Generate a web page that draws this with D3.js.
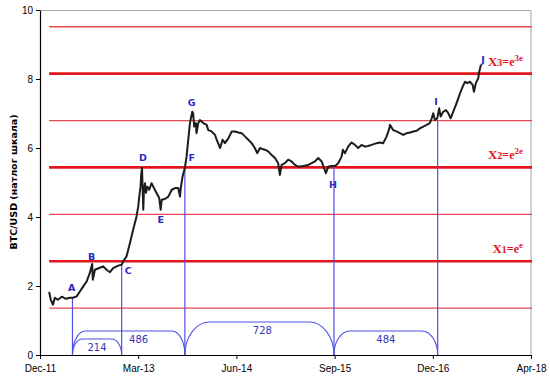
<!DOCTYPE html>
<html>
<head>
<meta charset="utf-8">
<script src="https://cdn.jsdelivr.net/npm/d3@7"></script>
<style>
  body { margin: 0; background: #fff; }
  svg { display: block; font-family: "DejaVu Sans", Verdana, sans-serif; }
  .tick text { font-size: 10px; fill: #000; }
  .tick line, .domain { stroke: #000; }
</style>
</head>
<body>
<svg width="550" height="379"></svg>
<script>
// ln(ln-price) style chart: BTC/USD on natural log scale, day by day
const priceDates = [
  "2012-01-13","2012-01-21","2012-01-31","2012-02-09","2012-02-23","2012-03-13","2012-04-01","2012-04-20",
  "2012-05-04","2012-05-22","2012-06-06","2012-06-22","2012-07-08","2012-07-23","2012-07-31","2012-08-03",
  "2012-08-06","2012-08-16","2012-09-08","2012-09-24","2012-10-10","2012-10-26","2012-11-10","2012-12-04",
  "2012-12-20","2012-12-27","2013-01-12","2013-01-28","2013-02-12","2013-02-28","2013-03-08","2013-03-13",
  "2013-03-19","2013-03-22","2013-03-26","2013-04-01","2013-04-04","2013-04-09","2013-04-14","2013-04-20",
  "2013-04-29","2013-05-10","2013-05-18","2013-06-03","2013-06-15","2013-06-22","2013-06-27","2013-07-12",
  "2013-07-28","2013-08-13","2013-08-29","2013-09-13","2013-09-21","2013-09-25","2013-10-03","2013-10-14",
  "2013-10-22","2013-10-30","2013-11-07","2013-11-18","2013-11-22","2013-11-27","2013-12-05","2013-12-08",
  "2013-12-16","2013-12-24","2014-01-01","2014-01-09","2014-01-25","2014-02-01","2014-02-17","2014-03-05",
  "2014-03-13","2014-03-29","2014-04-10","2014-04-21","2014-05-07","2014-05-23","2014-06-07","2014-06-23",
  "2014-07-09","2014-07-25","2014-08-09","2014-08-25","2014-09-09","2014-09-20","2014-10-03","2014-10-11",
  "2014-10-26","2014-11-11","2014-11-27","2014-12-13","2014-12-28","2015-01-05","2015-01-13","2015-01-29",
  "2015-02-13","2015-03-01","2015-03-17","2015-04-01","2015-04-25","2015-05-19","2015-06-04","2015-06-19",
  "2015-07-05","2015-07-21","2015-08-01","2015-08-10","2015-08-21","2015-09-06","2015-09-22","2015-10-07",
  "2015-10-23","2015-10-29","2015-11-08","2015-11-23","2015-12-09","2015-12-25","2016-01-09","2016-01-25",
  "2016-02-10","2016-02-25","2016-03-12","2016-04-05","2016-04-21","2016-05-06","2016-05-22","2016-06-04",
  "2016-06-07","2016-06-22","2016-07-08","2016-07-24","2016-08-09","2016-08-25","2016-09-10","2016-09-25",
  "2016-10-11","2016-10-26","2016-11-11","2016-11-27","2016-12-12","2016-12-21","2016-12-28","2017-01-05",
  "2017-01-16","2017-01-25","2017-02-01","2017-02-13","2017-02-26","2017-03-09","2017-03-20","2017-04-01",
  "2017-04-14","2017-04-25","2017-05-06","2017-05-16","2017-05-27","2017-06-06","2017-06-19","2017-07-02",
  "2017-07-08","2017-07-17","2017-07-28","2017-08-02","2017-08-10"
];
const priceLog = [
  1.83,1.60,1.46,1.66,1.60,1.69,1.63,1.66,
  1.66,1.70,1.84,1.99,2.13,2.38,2.57,2.64,
  2.18,2.47,2.53,2.57,2.47,2.40,2.52,2.59,
  2.62,2.71,2.86,3.24,3.63,4.01,4.30,4.59,
  4.88,5.22,5.42,4.21,4.79,4.98,4.70,4.88,
  4.79,4.98,4.88,4.69,4.55,4.21,4.50,4.52,
  4.59,4.79,4.84,4.84,4.59,4.84,5.17,5.42,
  5.75,6.24,6.72,7.05,7.01,6.62,6.72,6.43,
  6.72,6.81,6.77,6.72,6.67,6.52,6.48,6.38,
  6.24,6.00,6.24,6.14,6.28,6.48,6.48,6.45,
  6.43,6.33,6.24,6.14,6.00,5.85,6.00,5.98,
  5.95,5.90,5.80,5.71,5.56,5.22,5.51,5.56,
  5.66,5.61,5.51,5.46,5.48,5.51,5.56,5.61,
  5.71,5.61,5.42,5.27,5.46,5.48,5.48,5.56,
  5.75,5.95,5.85,6.04,6.16,6.09,6.00,6.09,
  6.04,6.06,6.09,6.14,6.16,6.14,6.33,6.57,
  6.67,6.52,6.48,6.43,6.38,6.43,6.45,6.48,
  6.50,6.57,6.62,6.67,6.72,6.86,7.01,6.81,
  6.86,7.15,6.91,7.05,7.10,7.01,6.86,7.05,
  7.25,7.44,7.63,7.78,7.92,7.88,7.92,7.83,
  7.63,7.88,8.02,8.21,8.41
];

// горизонтальные уровни: e/2 шагом (толстые = e, 2e, 3e)
const minorLevels = [1.359, 4.077, 6.796, 9.514];
const majorLevels = [2.718, 5.437, 8.155];
const levelNames = ["1", "2", "3"];
const levelPowers = ["e", "2e", "3e"];

// ключевые точки с вертикальными линиями
const eventNames = ["A", "C", "F", "H", "I"];
const eventDates = ["2012-05-02", "2012-12-20", "2013-10-14", "2015-09-17", "2017-01-18"];
const eventValues = [1.66, 2.62, 5.44, 5.48, 6.80];

// подписи точек
const pointLetters = ["A", "B", "C", "D", "E", "F", "G", "H", "I", "J"];
const pointDates = ["2012-04-28", "2012-07-31", "2013-01-20", "2013-03-30", "2013-06-22",
                    "2013-11-15", "2013-11-15", "2015-09-12", "2017-01-10", "2017-08-20"];
const pointValues = [1.96, 2.86, 2.44, 5.72, 3.92, 5.72, 7.33, 4.93, 7.34, 8.57];

// дуги с количеством дней
const bracketFrom = ["A", "A", "F", "H"];
const bracketTo = ["C", "F", "H", "I"];
const bracketDays = [214, 486, 728, 484];

const xTickDates = ["2011-12-01", "2013-03-08", "2014-06-14", "2015-09-20", "2016-12-26", "2018-04-03"];
const xTickLabels = ["Dec-11", "Mar-13", "Jun-14", "Sep-15", "Dec-16", "Apr-18"];
const yTicks = [0, 2, 4, 6, 8, 10];

const svg = d3.select("svg");
const width = +svg.attr("width");
const height = +svg.attr("height");
const parse = d3.timeParse("%Y-%m-%d");

const render = () => {
  const margin = { top: 10, right: 19, bottom: 24, left: 40 };
  const innerWidth = width - margin.left - margin.right;
  const innerHeight = height - margin.top - margin.bottom;

  const xScale = d3.scaleTime()
    .domain([parse(xTickDates[0]), parse(xTickDates[xTickDates.length - 1])])
    .range([0, innerWidth]);
  const yScale = d3.scaleLinear().domain([0, 10]).range([innerHeight, 0]);

  const g = svg.append("g").attr("transform", `translate(${margin.left},${margin.top})`);

  // серая рамка сверху и справа
  g.append("path")
    .attr("d", `M0,0.5H${innerWidth}V${innerHeight}`)
    .attr("fill", "none").attr("stroke", "#a6a6a6");

  const x0 = xScale(parse(priceDates[0]));
  g.selectAll(".minor").data(minorLevels).enter().append("line")
    .attr("x1", x0).attr("x2", innerWidth + 1)
    .attr("y1", d => yScale(d)).attr("y2", d => yScale(d))
    .attr("stroke", "#e6484d").attr("stroke-width", 1.3);
  g.selectAll(".major").data(majorLevels).enter().append("line")
    .attr("x1", x0).attr("x2", innerWidth + 1)
    .attr("y1", d => yScale(d)).attr("y2", d => yScale(d))
    .attr("stroke", "#e3141c").attr("stroke-width", 2.6);

  // вертикальные синие линии
  const blue = "#4f4fe8";
  const evX = {};
  eventNames.forEach((n, i) => { evX[n] = xScale(parse(eventDates[i])); });
  g.selectAll(".ev").data(eventNames).enter().append("line")
    .attr("x1", d => evX[d]).attr("x2", d => evX[d])
    .attr("y1", innerHeight).attr("y2", (d, i) => yScale(eventValues[i]))
    .attr("stroke", blue).attr("stroke-width", 1.2);

  // дуги: подъём (px), радиус угла (px), сдвиг подписи
  const rise = [16, 24, 33, 24];
  const corner = [10, 13, 25, 16];
  const labelDx = [0, 10, 3, 0];
  bracketDays.forEach((days, i) => {
    const a = evX[bracketFrom[i]], b = evX[bracketTo[i]];
    const y0 = innerHeight, ry = rise[i], rx = corner[i];
    g.append("path")
      .attr("d", `M${a},${y0}A${rx},${ry} 0 0 1 ${a + rx},${y0 - ry}` +
                 `L${b - rx},${y0 - ry}A${rx},${ry} 0 0 1 ${b},${y0}`)
      .attr("fill", "none").attr("stroke", blue).attr("stroke-width", 1.1);
    g.append("text")
      .attr("x", (a + b) / 2 + labelDx[i]).attr("y", y0 - ry + 12)
      .attr("text-anchor", "middle").attr("font-size", 10).attr("fill", "#3535b5")
      .text(days);
  });

  // цена
  const line = d3.line()
    .x((d, i) => xScale(parse(priceDates[i])))
    .y(d => yScale(d));
  g.append("path").datum(priceLog)
    .attr("d", line).attr("fill", "none")
    .attr("stroke", "#1c1c1c").attr("stroke-width", 2).attr("stroke-linejoin", "round");

  // буквы
  g.selectAll(".pt").data(pointLetters).enter().append("text")
    .attr("x", (d, i) => xScale(parse(pointDates[i])))
    .attr("y", (d, i) => yScale(pointValues[i]))
    .attr("text-anchor", "middle").attr("dominant-baseline", "central")
    .attr("font-size", 9.5).attr("font-weight", "bold").attr("fill", "#2a2abf")
    .text(d => d);

  // подписи уровней X1=e^e и т.д.
  majorLevels.forEach((v, i) => {
    const t = g.append("text")
      .attr("x", innerWidth - 8).attr("y", yScale(v) - 8)
      .attr("text-anchor", "end").attr("fill", "#e3141c")
      .attr("font-family", "'Liberation Serif', 'Times New Roman', serif")
      .attr("font-weight", "bold");
    t.append("tspan").attr("font-size", 13).text("X");
    t.append("tspan").attr("font-size", 10).text(levelNames[i]);
    t.append("tspan").attr("font-size", 12).text("=e");
    t.append("tspan").attr("font-size", 9).attr("dy", -5).text(levelPowers[i]);
  });

  // оси
  const xAxisG = g.append("g")
    .attr("transform", `translate(0,${innerHeight})`)
    .call(d3.axisBottom(xScale)
      .tickValues(xTickDates.map(parse))
      .tickFormat((d, i) => xTickLabels[i])
      .tickSize(4).tickSizeOuter(0));
  xAxisG.selectAll(".tick text").attr("dy", "0.95em");

  g.append("g")
    .call(d3.axisLeft(yScale).tickValues(yTicks).tickFormat(d3.format("d"))
      .tickSize(4).tickSizeOuter(0));
  g.selectAll(".tick text").attr("font-family", null);
  g.selectAll(".domain").attr("stroke-width", 1.2);

  svg.append("text")
    .attr("transform", `translate(13,182) rotate(-90)`)
    .attr("text-anchor", "middle").attr("dominant-baseline", "central")
    .attr("font-size", 9.5).attr("font-weight", "bold")
    .text("BTC/USD (натлог шкала)");
};

render();
</script>
</body>
</html>
